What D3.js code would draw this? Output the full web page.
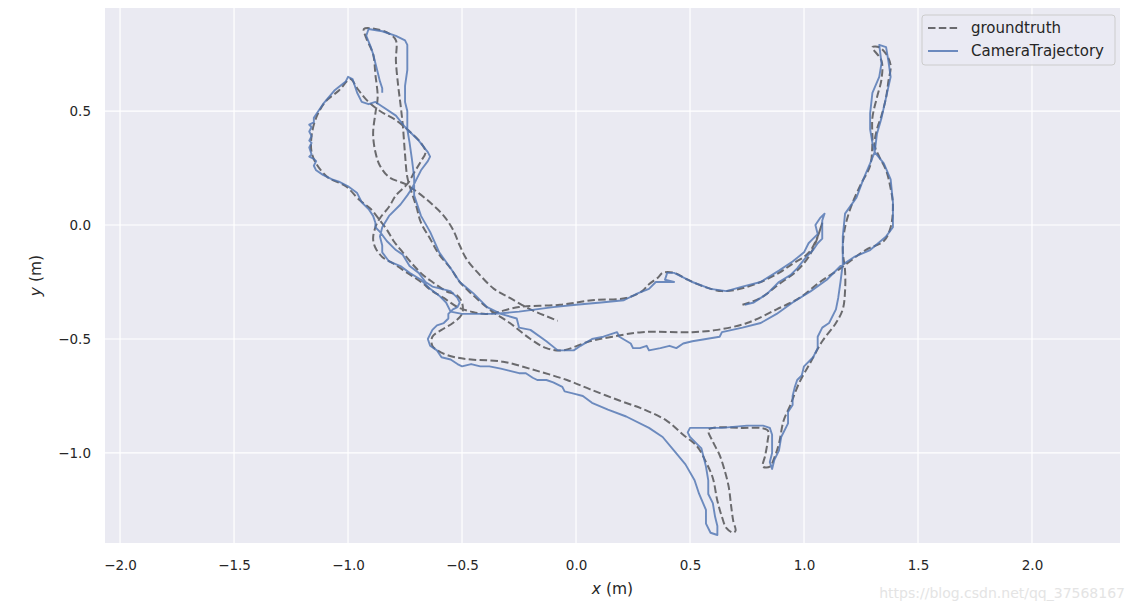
<!DOCTYPE html>
<html>
<head>
<meta charset="utf-8">
<script src="https://cdn.jsdelivr.net/npm/d3@7"></script>
<style>
body { margin: 0; background: #fff; }
text { font-family: "DejaVu Sans", sans-serif; }
</style>
</head>
<body>
<svg id="svg" width="1134" height="611"></svg>
<script>
// tick values
const xTicks = [-2.0, -1.5, -1.0, -0.5, 0.0, 0.5, 1.0, 1.5, 2.0];
const yTicks = [-1.0, -0.5, 0.0, 0.5];
const seriesNames = ["groundtruth", "CameraTrajectory"];

// groundtruth trajectory, [x, y] in metres
const groundtruth = [
	[0.73,-0.35],[0.81,-0.32],[0.89,-0.26],[0.97,-0.20],[1.02,-0.14],[1.05,-0.08],[1.08,0.01],[1.06,-0.05],
	[1.03,-0.11],[1.00,-0.14],[0.95,-0.17],[0.89,-0.21],[0.81,-0.25],[0.72,-0.28],[0.64,-0.29],[0.56,-0.27],
	[0.49,-0.24],[0.43,-0.21],[0.38,-0.21],[0.36,-0.23],[0.32,-0.26],[0.29,-0.29],[0.22,-0.32],[0.07,-0.33],
	[-0.07,-0.35],[-0.25,-0.36],[-0.39,-0.39],[-0.46,-0.38],[-0.52,-0.36],[-0.58,-0.32],[-0.63,-0.29],[-0.68,-0.25],
	[-0.74,-0.21],[-0.80,-0.17],[-0.85,-0.14],[-0.88,-0.10],[-0.89,-0.06],[-0.88,-0.01],[-0.86,0.03],[-0.82,0.08],
	[-0.79,0.13],[-0.74,0.18],[-0.71,0.23],[-0.68,0.28],[-0.66,0.32],[-0.68,0.36],[-0.73,0.41],[-0.79,0.46],
	[-0.86,0.50],[-0.92,0.55],[-0.96,0.60],[-0.99,0.64],[-1.04,0.59],[-1.10,0.54],[-1.14,0.47],[-1.16,0.39],
	[-1.16,0.32],[-1.14,0.27],[-1.09,0.21],[-1.01,0.17],[-0.95,0.11],[-0.90,0.07],[-0.86,0.02],[-0.83,-0.02],
	[-0.80,-0.07],[-0.76,-0.12],[-0.71,-0.18],[-0.67,-0.22],[-0.63,-0.25],[-0.57,-0.29],[-0.52,-0.31],[-0.50,-0.34],
	[-0.50,-0.39],[-0.54,-0.43],[-0.59,-0.46],[-0.63,-0.49],[-0.63,-0.53],[-0.59,-0.56],[-0.53,-0.58],[-0.46,-0.59],
	[-0.32,-0.60],[-0.17,-0.64],[-0.04,-0.68],[0.06,-0.72],[0.19,-0.77],[0.30,-0.81],[0.40,-0.86],[0.47,-0.92],
	[0.53,-0.97],[0.57,-1.04],[0.60,-1.11],[0.62,-1.21],[0.64,-1.28],[0.66,-1.33],[0.69,-1.35],[0.70,-1.34],
	[0.69,-1.30],[0.68,-1.23],[0.67,-1.15],[0.65,-1.07],[0.63,-1.01],[0.60,-0.95],[0.58,-0.90],[0.60,-0.89],
	[0.72,-0.89],[0.84,-0.90],[0.84,-0.95],[0.83,-1.01],[0.82,-1.06],[0.85,-1.06],[0.87,-1.02],[0.89,-0.96],
	[0.91,-0.86],[0.94,-0.79],[0.98,-0.69],[1.03,-0.60],[1.08,-0.51],[1.14,-0.43],[1.17,-0.37],[1.18,-0.29],
	[1.18,-0.20],[1.17,-0.11],[1.18,-0.01],[1.21,0.09],[1.25,0.18],[1.29,0.26],[1.30,0.36],[1.30,0.47],
	[1.32,0.56],[1.34,0.64],[1.34,0.72],[1.30,0.78],[1.33,0.78],[1.36,0.75],[1.38,0.70],[1.37,0.63],
	[1.36,0.56],[1.34,0.48],[1.32,0.42],[1.31,0.35],[1.33,0.30],[1.36,0.24],[1.38,0.16],[1.39,0.09],
	[1.38,-0.01],[1.35,-0.07],[1.27,-0.11],[1.16,-0.19],[1.07,-0.25],[0.98,-0.32],[0.88,-0.37],[0.75,-0.43],
	[0.62,-0.46],[0.51,-0.47],[0.29,-0.47],[0.16,-0.49],[0.06,-0.51],[-0.06,-0.55],[-0.13,-0.54],[-0.20,-0.50],
	[-0.29,-0.43],[-0.38,-0.37],[-0.46,-0.30],[-0.51,-0.25],[-0.55,-0.19],[-0.60,-0.13],[-0.64,-0.06],[-0.68,0.01],
	[-0.70,0.08],[-0.72,0.14],[-0.74,0.21],[-0.75,0.31],[-0.76,0.44],[-0.77,0.53],[-0.78,0.61],[-0.79,0.72],
	[-0.79,0.81],[-0.82,0.84],[-0.88,0.86],[-0.93,0.86],[-0.92,0.82],[-0.89,0.75],[-0.88,0.66],[-0.87,0.56],
	[-0.88,0.49],[-0.89,0.40],[-0.88,0.32],[-0.86,0.26],[-0.82,0.21],[-0.75,0.18],[-0.69,0.14],[-0.63,0.09],
	[-0.58,0.04],[-0.54,-0.02],[-0.51,-0.09],[-0.48,-0.15],[-0.43,-0.21],[-0.36,-0.28],[-0.29,-0.32],[-0.20,-0.37],
	[-0.08,-0.42]
];

// estimated camera trajectory, [x, y] in metres
const cameraTrajectory = [
	[0.74,-0.35],[0.78,-0.34],[0.84,-0.30],[0.89,-0.25],[0.94,-0.22],[0.97,-0.19],[1.01,-0.14],[1.04,-0.11],
	[1.06,-0.08],[1.08,-0.06],[1.08,-0.01],[1.08,0.02],[1.09,0.05],[1.07,0.03],[1.05,0.00],[1.06,-0.04],
	[1.04,-0.06],[1.02,-0.08],[1.00,-0.12],[0.95,-0.16],[0.89,-0.20],[0.81,-0.25],[0.73,-0.27],[0.66,-0.29],
	[0.59,-0.28],[0.51,-0.25],[0.47,-0.23],[0.43,-0.21],[0.40,-0.21],[0.39,-0.24],[0.43,-0.25],[0.38,-0.25],
	[0.35,-0.25],[0.32,-0.28],[0.27,-0.30],[0.21,-0.33],[0.11,-0.34],[0.00,-0.35],[-0.10,-0.36],[-0.25,-0.38],
	[-0.36,-0.39],[-0.44,-0.39],[-0.50,-0.39],[-0.55,-0.38],[-0.57,-0.34],[-0.60,-0.31],[-0.64,-0.28],[-0.68,-0.24],
	[-0.73,-0.21],[-0.77,-0.18],[-0.82,-0.16],[-0.85,-0.12],[-0.85,-0.09],[-0.86,-0.05],[-0.85,-0.01],[-0.82,0.04],
	[-0.77,0.09],[-0.74,0.13],[-0.72,0.16],[-0.70,0.20],[-0.68,0.24],[-0.65,0.28],[-0.64,0.30],[-0.65,0.32],
	[-0.69,0.37],[-0.75,0.43],[-0.79,0.48],[-0.85,0.52],[-0.88,0.54],[-0.91,0.53],[-0.94,0.54],[-0.96,0.58],
	[-0.97,0.61],[-0.98,0.64],[-1.00,0.65],[-1.01,0.63],[-1.06,0.59],[-1.11,0.53],[-1.13,0.50],[-1.15,0.47],
	[-1.15,0.45],[-1.17,0.44],[-1.16,0.43],[-1.17,0.41],[-1.16,0.39],[-1.17,0.37],[-1.16,0.36],[-1.17,0.34],
	[-1.16,0.31],[-1.17,0.30],[-1.15,0.29],[-1.14,0.28],[-1.15,0.26],[-1.14,0.24],[-1.11,0.22],[-1.07,0.20],
	[-1.04,0.19],[-1.00,0.17],[-0.96,0.14],[-0.94,0.10],[-0.91,0.07],[-0.89,0.04],[-0.88,0.01],[-0.88,-0.01],
	[-0.86,-0.03],[-0.83,-0.07],[-0.80,-0.10],[-0.79,-0.11],[-0.76,-0.13],[-0.73,-0.18],[-0.69,-0.21],[-0.66,-0.25],
	[-0.63,-0.27],[-0.59,-0.28],[-0.55,-0.29],[-0.52,-0.32],[-0.51,-0.34],[-0.52,-0.36],[-0.54,-0.37],[-0.56,-0.39],
	[-0.56,-0.41],[-0.58,-0.43],[-0.61,-0.44],[-0.63,-0.46],[-0.64,-0.48],[-0.65,-0.50],[-0.64,-0.53],[-0.61,-0.55],
	[-0.59,-0.58],[-0.55,-0.59],[-0.52,-0.61],[-0.50,-0.62],[-0.46,-0.61],[-0.42,-0.62],[-0.38,-0.62],[-0.33,-0.63],
	[-0.29,-0.64],[-0.25,-0.65],[-0.22,-0.65],[-0.19,-0.67],[-0.17,-0.68],[-0.13,-0.68],[-0.10,-0.69],
	[-0.06,-0.71],[-0.05,-0.73],[-0.01,-0.74],[0.03,-0.75],[0.07,-0.78],[0.14,-0.81],[0.22,-0.84],[0.32,-0.89],
	[0.38,-0.93],[0.43,-0.99],[0.48,-1.05],[0.52,-1.12],[0.54,-1.18],[0.57,-1.25],[0.57,-1.31],[0.59,-1.35],
	[0.62,-1.36],[0.62,-1.32],[0.61,-1.28],[0.60,-1.22],[0.58,-1.18],[0.58,-1.12],[0.57,-1.06],[0.56,-1.02],
	[0.55,-0.98],[0.53,-0.96],[0.50,-0.93],[0.49,-0.91],[0.50,-0.89],[0.57,-0.89],[0.64,-0.89],[0.75,-0.88],
	[0.82,-0.88],[0.85,-0.89],[0.86,-0.92],[0.86,-0.96],[0.86,-1.00],[0.85,-1.04],[0.86,-1.07],[0.87,-1.03],
	[0.89,-0.99],[0.90,-0.93],[0.93,-0.87],[0.93,-0.82],[0.95,-0.79],[0.95,-0.75],[0.96,-0.71],[0.97,-0.68],
	[0.99,-0.66],[1.00,-0.62],[1.04,-0.58],[1.06,-0.54],[1.06,-0.49],[1.08,-0.45],[1.11,-0.43],[1.14,-0.37],
	[1.15,-0.32],[1.16,-0.25],[1.17,-0.17],[1.17,-0.05],[1.18,0.05],[1.23,0.12],[1.26,0.20],[1.29,0.27],
	[1.31,0.32],[1.30,0.36],[1.29,0.42],[1.29,0.49],[1.30,0.58],[1.33,0.65],[1.34,0.71],[1.33,0.79],
	[1.36,0.78],[1.37,0.72],[1.38,0.65],[1.36,0.56],[1.34,0.47],[1.32,0.40],[1.31,0.32],[1.35,0.27],
	[1.38,0.20],[1.39,0.10],[1.39,-0.01],[1.36,-0.05],[1.29,-0.11],[1.22,-0.14],[1.16,-0.18],[1.10,-0.24],
	[1.03,-0.29],[0.95,-0.34],[0.88,-0.39],[0.81,-0.43],[0.73,-0.45],[0.64,-0.47],[0.63,-0.49],[0.57,-0.50],
	[0.51,-0.51],[0.47,-0.52],[0.44,-0.54],[0.41,-0.53],[0.37,-0.54],[0.32,-0.55],[0.31,-0.53],[0.28,-0.54],
	[0.25,-0.54],[0.24,-0.52],[0.19,-0.49],[0.18,-0.47],[0.12,-0.49],[0.07,-0.50],[0.02,-0.53],[-0.01,-0.55],
	[-0.08,-0.55],[-0.13,-0.51],[-0.20,-0.46],[-0.25,-0.45],[-0.26,-0.41],[-0.33,-0.39],[-0.39,-0.36],[-0.45,-0.30],
	[-0.51,-0.25],[-0.55,-0.19],[-0.60,-0.12],[-0.64,-0.03],[-0.68,0.04],[-0.71,0.13],[-0.71,0.21],[-0.72,0.29],
	[-0.73,0.36],[-0.74,0.42],[-0.74,0.46],[-0.74,0.50],[-0.75,0.54],[-0.75,0.61],[-0.74,0.68],[-0.74,0.75],
	[-0.74,0.79],[-0.75,0.81],[-0.79,0.83],[-0.85,0.85],[-0.91,0.86],[-0.92,0.83],[-0.90,0.78],[-0.89,0.75],
	[-0.88,0.71],[-0.87,0.67],[-0.86,0.63],[-0.85,0.60],[-0.85,0.58]
];

var svg = d3.select("svg");
var plot = { left: 105, top: 8, right: 1120, bottom: 543 };

var x = d3.scaleLinear().domain([-2.066, 2.386]).range([plot.left, plot.right]);
var y = d3.scaleLinear().domain([-1.395, 0.952]).range([plot.bottom, plot.top]);

var fmt = function (v) { return d3.format(".1f")(v).replace("-", "\u2212"); };

svg.append("rect")
	.attr("x", plot.left).attr("y", plot.top)
	.attr("width", plot.right - plot.left).attr("height", plot.bottom - plot.top)
	.style("fill", "#EAEAF2");

svg.append("clipPath").attr("id", "clip")
	.append("rect")
	.attr("x", plot.left).attr("y", plot.top)
	.attr("width", plot.right - plot.left).attr("height", plot.bottom - plot.top);

// grid
var grid = svg.append("g").style("stroke", "#fff").style("stroke-width", "1.2px");
grid.selectAll(".gx").data(xTicks).enter().append("line")
	.attr("x1", function (d) { return x(d); }).attr("x2", function (d) { return x(d); })
	.attr("y1", plot.top).attr("y2", plot.bottom);
grid.selectAll(".gy").data(yTicks).enter().append("line")
	.attr("y1", function (d) { return y(d); }).attr("y2", function (d) { return y(d); })
	.attr("x1", plot.left).attr("x2", plot.right);

// axes, tick labels only like seaborn darkgrid
var xAxis = svg.append("g")
	.attr("transform", "translate(0," + plot.bottom + ")")
	.call(d3.axisBottom(x).tickValues(xTicks).tickFormat(fmt).tickSize(0).tickPadding(17));
var yAxis = svg.append("g")
	.attr("transform", "translate(" + plot.left + ",0)")
	.call(d3.axisLeft(y).tickValues(yTicks).tickFormat(fmt).tickSize(0).tickPadding(14));
[xAxis, yAxis].forEach(function (a) {
	a.select(".domain").remove();
	a.selectAll("text")
		.style("font-family", "DejaVu Sans, sans-serif")
		.style("font-size", "13.5px")
		.style("fill", "#262626");
});

// trajectories
var lines = svg.append("g").attr("clip-path", "url(#clip)");

var gtLine = d3.line()
	.x(function (d) { return x(d[0]); })
	.y(function (d) { return y(d[1]); })
	.curve(d3.curveCatmullRom.alpha(0.5));

var camLine = d3.line()
	.x(function (d) { return x(d[0]); })
	.y(function (d) { return y(d[1]); });

lines.append("path")
	.datum(groundtruth)
	.attr("d", gtLine)
	.style("fill", "none")
	.style("stroke", "#000")
	.style("stroke-opacity", 0.55)
	.style("stroke-width", "2px")
	.style("stroke-dasharray", "7.5,3.3");

lines.append("path")
	.datum(cameraTrajectory)
	.attr("d", camLine)
	.style("fill", "none")
	.style("stroke", "#4C72B0")
	.style("stroke-opacity", 0.8)
	.style("stroke-width", "1.9px")
	.style("stroke-linejoin", "round");

// axis labels
var xl = svg.append("text")
	.attr("x", (plot.left + plot.right) / 2).attr("y", 594)
	.attr("text-anchor", "middle")
	.style("font-size", "15.5px").style("fill", "#262626");
xl.append("tspan").style("font-style", "italic").text("x");
xl.append("tspan").text(" (m)");

var yl = svg.append("text")
	.attr("transform", "translate(41," + ((plot.top + plot.bottom) / 2) + ") rotate(-90)")
	.attr("text-anchor", "middle")
	.style("font-size", "15.5px").style("fill", "#262626");
yl.append("tspan").style("font-style", "italic").text("y");
yl.append("tspan").text(" (m)");

// legend
var legend = svg.append("g");
legend.append("rect")
	.attr("x", 922).attr("y", 15).attr("width", 193).attr("height", 50)
	.attr("rx", 3)
	.style("fill", "#EAEAF2").style("fill-opacity", 0.8)
	.style("stroke", "#cccccc").style("stroke-width", "1px");

var legendStyles = [
	{ stroke: "#000", opacity: 0.55, dash: "7.5,3.3" },
	{ stroke: "#4C72B0", opacity: 0.8, dash: null }
];
seriesNames.forEach(function (name, i) {
	var ly = 28 + i * 23;
	legend.append("line")
		.attr("x1", 928).attr("x2", 958).attr("y1", ly).attr("y2", ly)
		.style("stroke", legendStyles[i].stroke)
		.style("stroke-opacity", legendStyles[i].opacity)
		.style("stroke-width", "2px")
		.style("stroke-dasharray", legendStyles[i].dash);
	legend.append("text")
		.attr("x", 971).attr("y", ly + 5)
		.style("font-size", "15px").style("fill", "#262626")
		.text(name);
});

// watermark
svg.append("text")
	.attr("x", 1125).attr("y", 598)
	.attr("text-anchor", "end")
	.style("font-size", "14px")
	.style("fill", "#e4e4e4")
	.text("https://blog.csdn.net/qq_37568167");
</script>
</body>
</html>
